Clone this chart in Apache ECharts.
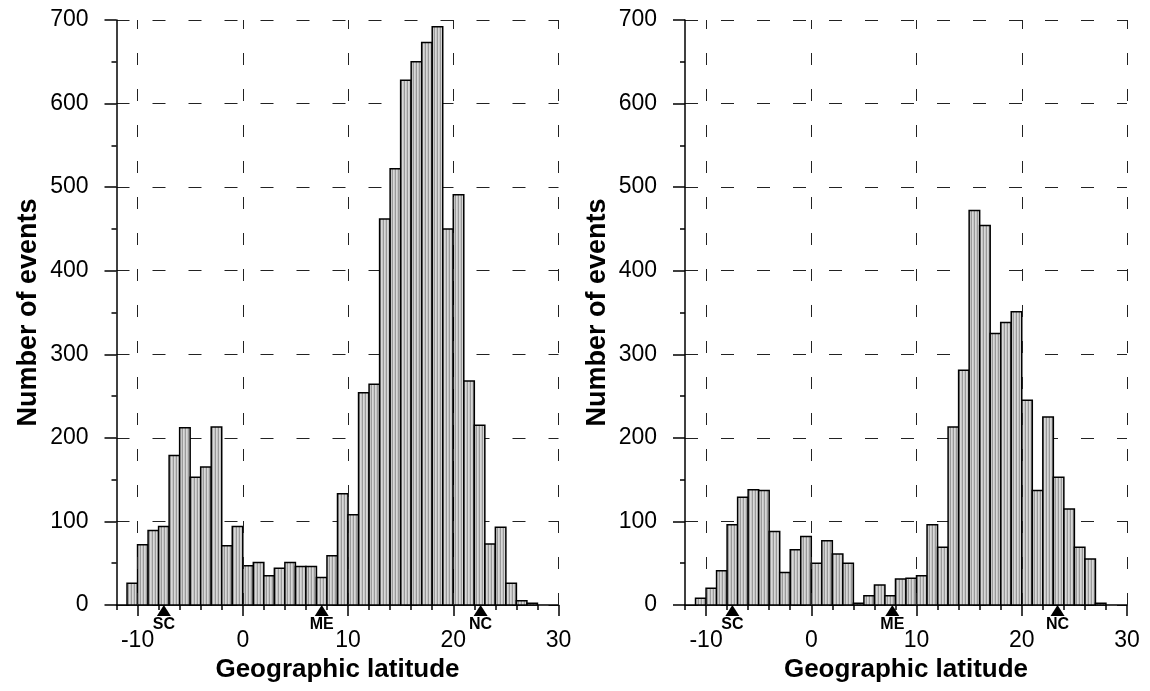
<!DOCTYPE html>
<html>
<head>
<meta charset="utf-8">
<title>Number of events vs geographic latitude</title>
<script src="https://cdn.jsdelivr.net/npm/echarts@6/dist/echarts.min.js"></script>
<style>
  html, body { margin: 0; padding: 0; background: #fff; }
  #chart { width: 1150px; height: 691px; }
</style>
</head>
<body>
<div id="chart"></div>
<script>
// Lower edge of each 1-degree latitude bin
const binStarts = [-11, -10, -9, -8, -7, -6, -5, -4, -3, -2, -1, 0, 1, 2, 3, 4, 5, 6, 7, 8,
                   9, 10, 11, 12, 13, 14, 15, 16, 17, 18, 19, 20, 21, 22, 23, 24, 25, 26, 27];
const binWidth = 1;

// Event counts per bin, left and right histograms
const countsLeft = [26, 72, 89, 94, 179, 212, 153, 165, 213, 71, 94, 47, 51, 35, 44, 51, 46, 46, 33, 59,
                    133, 108, 254, 264, 462, 522, 628, 650, 673, 692, 450, 491, 268, 215, 73, 93, 26, 5, 2];
const countsRight = [8, 20, 41, 96, 129, 138, 137, 88, 39, 66, 82, 50, 77, 61, 50, 2, 11, 24, 11, 31,
                     32, 35, 96, 69, 213, 281, 472, 454, 325, 338, 351, 245, 137, 225, 153, 115, 69, 55, 2];

// Axis ticks
const latMajorTicks = [-10, 0, 10, 20, 30];
const countTicksStep = 100;

// Reference latitudes shown as triangles under the axis
const markerNames = ['SC', 'ME', 'NC'];
const markerLatLeft = [-7.5, 7.5, 22.6];
const markerLatRight = [-7.5, 7.7, 23.4];

const xTitle = 'Geographic latitude';
const yTitle = 'Number of events';

const FONT = '"Liberation Sans", Arial, sans-serif';

// Fine vertical hatching used to fill the bars
function stripeFill() {
  const c = document.createElement('canvas');
  c.width = 3; c.height = 4;
  const g = c.getContext('2d');
  ['#d8d8d8', '#c6c6c6', '#9a9a9a'].forEach((col, i) => {
    g.fillStyle = col; g.fillRect(i, 0, 1, 4);
  });
  return { image: c, repeat: 'repeat' };
}
const barFill = stripeFill();

const panels = [
  { left: 116.5, counts: countsLeft, markers: markerLatLeft },
  { left: 685, counts: countsRight, markers: markerLatRight }
];

const grids = [], xAxes = [], yAxes = [], series = [];
const axisColor = '#000';

panels.forEach((p, i) => {
  grids.push({ left: p.left, top: 20, width: 442, height: 585 });

  // minor ticks every 2 degrees + axis line
  xAxes.push({
    type: 'value', gridIndex: i, position: 'bottom', min: -12, max: 30, interval: 2,
    axisLine: { show: true, onZero: false, lineStyle: { color: axisColor, width: 1.5 } },
    axisTick: { show: true, length: 5, lineStyle: { color: axisColor, width: 1.5 } },
    axisLabel: { show: false },
    splitLine: { show: false }
  });
  // major ticks, labels and title
  xAxes.push({
    type: 'value', gridIndex: i, position: 'bottom', min: -12, max: 30,
    axisLine: { show: false, onZero: false },
    axisTick: { show: true, length: 11, customValues: latMajorTicks,
                lineStyle: { color: axisColor, width: 1.5 } },
    axisLabel: { show: true, customValues: latMajorTicks, margin: 24,
                 fontFamily: FONT, fontSize: 23, color: '#000' },
    splitLine: { show: false },
    name: xTitle, nameLocation: 'middle', nameGap: 50,
    nameTextStyle: { fontFamily: FONT, fontSize: 26, fontWeight: 'bold', color: '#000' }
  });

  yAxes.push({
    type: 'value', gridIndex: i, min: 0, max: 700, interval: countTicksStep,
    axisLine: { show: true, onZero: false, lineStyle: { color: axisColor, width: 1.5 } },
    axisTick: { show: true, length: 12, lineStyle: { color: axisColor, width: 1.5 } },
    minorTick: { show: true, splitNumber: 2, length: 5, lineStyle: { color: axisColor, width: 1.5 } },
    axisLabel: { margin: 28, fontFamily: FONT, fontSize: 23, color: '#000' },
    splitLine: { show: true, lineStyle: { color: '#222', width: 1, type: [13, 23] } },
    name: yTitle, nameLocation: 'middle', nameGap: 74, nameRotate: 90,
    nameTextStyle: { fontFamily: FONT, fontSize: 27, fontWeight: 'bold', color: '#000' }
  });

  // dashed vertical grid lines at the major latitudes
  series.push({
    type: 'line', xAxisIndex: i * 2, yAxisIndex: i, data: [], z: 1,
    silent: true, animation: false,
    markLine: {
      silent: true, symbol: ['none', 'none'], label: { show: false },
      lineStyle: { color: '#222', width: 1, type: [12, 24] },
      data: latMajorTicks.map(v => ({ xAxis: v }))
    }
  });

  // histogram bars
  series.push({
    type: 'custom', xAxisIndex: i * 2, yAxisIndex: i, z: 3, animation: false,
    data: binStarts.map((b, k) => [b, p.counts[k]]),
    encode: { x: 0, y: 1 },
    renderItem: (params, api) => {
      const x0 = api.value(0);
      const v = api.value(1);
      const tl = api.coord([x0, v]);
      const br = api.coord([x0 + binWidth, 0]);
      return {
        type: 'rect',
        shape: { x: tl[0], y: tl[1], width: br[0] - tl[0], height: br[1] - tl[1] },
        style: { fill: barFill, stroke: '#000', lineWidth: 1.5 }
      };
    }
  });

  // triangle markers with their names
  series.push({
    type: 'scatter', xAxisIndex: i * 2, yAxisIndex: i, z: 5, animation: false,
    symbol: 'triangle', symbolSize: [14, 11], symbolOffset: [0, 5.5],
    itemStyle: { color: '#000', opacity: 1 },
    label: { show: true, position: 'bottom', distance: 1, formatter: '{b}',
             fontFamily: FONT, fontSize: 16, fontWeight: 'bold', color: '#000' },
    data: p.markers.map((x, k) => ({ name: markerNames[k], value: [x, 0] }))
  });
});

const chart = echarts.init(document.getElementById('chart'), null, { renderer: 'canvas' });
chart.setOption({
  animation: false,
  backgroundColor: '#fff',
  grid: grids,
  xAxis: xAxes,
  yAxis: yAxes,
  series: series
});
</script>
</body>
</html>
